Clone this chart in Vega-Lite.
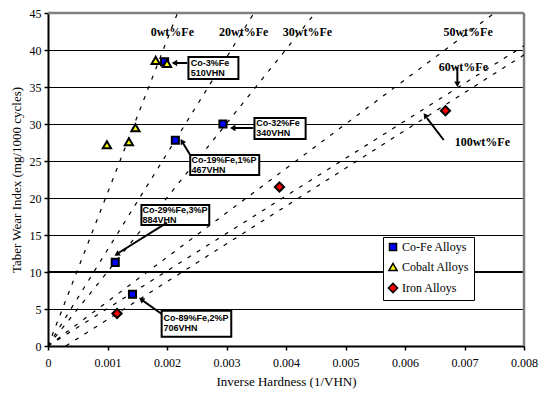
{
  "$schema": "https://vega.github.io/schema/vega-lite/v6.json",
  "width": 476,
  "height": 333,
  "autosize": "none",
  "padding": {"left": 48, "top": 13, "right": 16, "bottom": 51},
  "background": "white",
  "config": {
    "view": {"stroke": null},
    "font": "Liberation Serif",
    "axis": {
      "domainColor": "black", "domainWidth": 2, "tickColor": "black", "tickWidth": 1.5, "tickSize": 4,
      "labelFont": "Liberation Serif", "labelFontSize": 12, "labelColor": "black",
      "titleFont": "Liberation Serif", "titleFontSize": 13, "titleFontWeight": "normal", "titleColor": "black"
    },
    "legend": {"labelFont": "Liberation Serif", "labelFontSize": 12, "labelColor": "black"}
  },
  "datasets": {
    "points": [
      {"series": "Co-Fe Alloys", "x": 0.00196, "y": 38.4},
      {"series": "Co-Fe Alloys", "x": 0.00294, "y": 30.0},
      {"series": "Co-Fe Alloys", "x": 0.00214, "y": 27.8},
      {"series": "Co-Fe Alloys", "x": 0.00113, "y": 11.3},
      {"series": "Co-Fe Alloys", "x": 0.00142, "y": 7.0},
      {"series": "Cobalt Alloys", "x": 0.00181, "y": 38.6},
      {"series": "Cobalt Alloys", "x": 0.00200, "y": 38.2},
      {"series": "Cobalt Alloys", "x": 0.00147, "y": 29.5},
      {"series": "Cobalt Alloys", "x": 0.00136, "y": 27.6},
      {"series": "Cobalt Alloys", "x": 0.00099, "y": 27.2},
      {"series": "Iron Alloys", "x": 0.00668, "y": 31.8},
      {"series": "Iron Alloys", "x": 0.00389, "y": 21.5},
      {"series": "Iron Alloys", "x": 0.00116, "y": 4.4}
    ],
    "curves": [
      {"curve": "0wt%Fe", "x": 0.0, "y": 0.0},
      {"curve": "0wt%Fe", "x": 0.00237, "y": 49},
      {"curve": "20wt%Fe", "x": 0.0, "y": 0.0},
      {"curve": "20wt%Fe", "x": 0.00377, "y": 49},
      {"curve": "30wt%Fe", "x": 0.0, "y": 0.0},
      {"curve": "30wt%Fe", "x": 0.00489, "y": 49},
      {"curve": "50wt%Fe", "x": 0.0, "y": 0.0},
      {"curve": "50wt%Fe", "x": 0.00817, "y": 49},
      {"curve": "60wt%Fe", "x": 0.0, "y": 0.0},
      {"curve": "60wt%Fe", "x": 0.0085, "y": 43.1},
      {"curve": "100wt%Fe", "x": 0.0003, "y": 0.0},
      {"curve": "100wt%Fe", "x": 0.0085, "y": 41.9}
    ],
    "boxes": [
      {"bx": 0.00236, "bx2": 0.00320, "by": 39.05, "by2": 36.08, "text": "Co-3%Fe|510VHN", "tx": 0.00240, "ty": 38.85},
      {"bx": 0.00347, "bx2": 0.00433, "by": 30.81, "by2": 27.97, "text": "Co-32%Fe|340VHN", "tx": 0.00350, "ty": 30.65},
      {"bx": 0.00239, "bx2": 0.00355, "by": 25.81, "by2": 23.11, "text": "Co-19%Fe,1%P|467VHN", "tx": 0.00241, "ty": 25.65},
      {"bx": 0.00157, "bx2": 0.00271, "by": 19.05, "by2": 16.35, "text": "Co-29%Fe,3%P|884VHN", "tx": 0.00159, "ty": 18.9},
      {"bx": 0.00191, "bx2": 0.00308, "by": 4.77, "by2": 1.26, "text": "Co-89%Fe,2%P|706VHN", "tx": 0.00194, "ty": 4.3}
    ],
    "arrows": [
      {"ax": 0.00234, "ay": 38.24, "hx": 0.00216, "hy": 38.24},
      {"ax": 0.00345, "ay": 29.46, "hx": 0.00314, "hy": 29.46},
      {"ax": 0.00239, "ay": 25.81, "hx": 0.00227, "hy": 27.4},
      {"ax": 0.00200, "ay": 16.66, "hx": 0.00119, "hy": 12.6},
      {"ax": 0.00191, "ay": 4.32, "hx": 0.00160, "hy": 6.1},
      {"ax": 0.00688, "ay": 37.74, "hx": 0.00688, "hy": 35.7},
      {"ax": 0.00665, "ay": 27.84, "hx": 0.00637, "hy": 30.8}
    ],
    "labels": [
      {"x": 0.00209, "y": 42.5, "text": "0wt%Fe"},
      {"x": 0.00329, "y": 42.5, "text": "20wt%Fe"},
      {"x": 0.00436, "y": 42.5, "text": "30wt%Fe"},
      {"x": 0.00706, "y": 42.5, "text": "50wt%Fe"},
      {"x": 0.00698, "y": 37.7, "text": "60wt%Fe"},
      {"x": 0.00730, "y": 27.6, "text": "100wt%Fe"}
    ]
  },
  "layer": [
    {
      "data": {"name": "points"},
      "mark": {"type": "point", "opacity": 0},
      "encoding": {
        "x": {"field": "x", "type": "quantitative", "title": "Inverse Hardness (1/VHN)",
          "scale": {"domain": [0, 0.008], "nice": false},
          "axis": {"values": [0, 0.001, 0.002, 0.003, 0.004, 0.005, 0.006, 0.007, 0.008], "grid": false,
            "labelExpr": "datum.value == 0 ? '0' : format(datum.value, '.3f')", "labelPadding": 7, "titlePadding": 7, "labelFlush": false, "labelOverlap": false}},
        "y": {"field": "y", "type": "quantitative", "title": "Taber Wear Index (mg/1000 cycles)",
          "scale": {"domain": [0, 45], "nice": false, "zero": true},
          "axis": {"tickCount": 9, "grid": true, "gridColor": "black", "gridWidth": 1,
            "gridOpacity": 1, "labelPadding": 3, "titlePadding": 6, "labelFlush": false, "labelOverlap": false}}
      }
    },
    {
      "data": {"values": [{"y": 10}]},
      "mark": {"type": "rule", "color": "black", "strokeWidth": 2.2},
      "encoding": {"y": {"field": "y", "type": "quantitative"}}
    },
    {
      "data": {"values": [{"y": 45}]},
      "mark": {"type": "rule", "color": "#808080", "strokeWidth": 2.5},
      "encoding": {"y": {"field": "y", "type": "quantitative"}}
    },
    {
      "data": {"values": [{"x": 0.008}]},
      "mark": {"type": "rule", "color": "#808080", "strokeWidth": 2.5},
      "encoding": {"x": {"field": "x", "type": "quantitative"}}
    },
    {
      "data": {"name": "curves"},
      "mark": {"type": "line", "color": "black", "strokeWidth": 1.2, "strokeDash": [4, 7], "clip": true},
      "encoding": {
        "x": {"field": "x", "type": "quantitative"},
        "y": {"field": "y", "type": "quantitative"},
        "detail": {"field": "curve"}
      }
    },
    {
      "data": {"name": "labels"},
      "mark": {"type": "text", "font": "Liberation Serif", "fontWeight": "bold", "fontSize": 12, "color": "black"},
      "encoding": {
        "x": {"field": "x", "type": "quantitative"},
        "y": {"field": "y", "type": "quantitative"},
        "text": {"field": "text"}
      }
    },
    {
      "data": {"name": "boxes"},
      "mark": {"type": "rect", "fill": "white", "stroke": "black", "strokeWidth": 2},
      "encoding": {
        "x": {"field": "bx", "type": "quantitative"},
        "x2": {"field": "bx2"},
        "y": {"field": "by", "type": "quantitative"},
        "y2": {"field": "by2"}
      }
    },
    {
      "data": {"name": "boxes"},
      "mark": {"type": "text", "font": "Liberation Sans", "fontSize": 9, "fontWeight": "bold", "color": "black", "align": "left", "baseline": "top", "lineBreak": "|", "lineHeight": 10},
      "encoding": {
        "x": {"field": "tx", "type": "quantitative"},
        "y": {"field": "ty", "type": "quantitative"},
        "text": {"field": "text"}
      }
    },
    {
      "data": {"name": "arrows"},
      "mark": {"type": "rule", "color": "black", "strokeWidth": 2},
      "encoding": {
        "x": {"field": "ax", "type": "quantitative"},
        "y": {"field": "ay", "type": "quantitative"},
        "x2": {"field": "hx"},
        "y2": {"field": "hy"}
      }
    },
    {
      "data": {"values": [{"x": 0.00214, "y": 38.24}, {"x": 0.00312, "y": 29.46}]},
      "mark": {"type": "point", "shape": "triangle", "angle": 270, "filled": true, "color": "black", "size": 40, "opacity": 1},
      "encoding": {"x": {"field": "x", "type": "quantitative"}, "y": {"field": "y", "type": "quantitative"}}
    },
    {
      "data": {"values": [{"x": 0.00226, "y": 27.55}]},
      "mark": {"type": "point", "shape": "triangle", "angle": 328, "filled": true, "color": "black", "size": 40, "opacity": 1},
      "encoding": {"x": {"field": "x", "type": "quantitative"}, "y": {"field": "y", "type": "quantitative"}}
    },
    {
      "data": {"values": [{"x": 0.00117, "y": 12.45}]},
      "mark": {"type": "point", "shape": "triangle", "angle": 238, "filled": true, "color": "black", "size": 40, "opacity": 1},
      "encoding": {"x": {"field": "x", "type": "quantitative"}, "y": {"field": "y", "type": "quantitative"}}
    },
    {
      "data": {"values": [{"x": 0.00158, "y": 6.22}]},
      "mark": {"type": "point", "shape": "triangle", "angle": 306, "filled": true, "color": "black", "size": 40, "opacity": 1},
      "encoding": {"x": {"field": "x", "type": "quantitative"}, "y": {"field": "y", "type": "quantitative"}}
    },
    {
      "data": {"values": [{"x": 0.00688, "y": 35.5}]},
      "mark": {"type": "point", "shape": "triangle", "angle": 180, "filled": true, "color": "black", "size": 40, "opacity": 1},
      "encoding": {"x": {"field": "x", "type": "quantitative"}, "y": {"field": "y", "type": "quantitative"}}
    },
    {
      "data": {"values": [{"x": 0.00635, "y": 31.05}]},
      "mark": {"type": "point", "shape": "triangle", "angle": 323, "filled": true, "color": "black", "size": 40, "opacity": 1},
      "encoding": {"x": {"field": "x", "type": "quantitative"}, "y": {"field": "y", "type": "quantitative"}}
    },
    {
      "data": {"name": "points"},
      "mark": {"type": "point", "filled": true, "stroke": "black", "strokeWidth": 2, "opacity": 1},
      "encoding": {
        "x": {"field": "x", "type": "quantitative"},
        "y": {"field": "y", "type": "quantitative"},
        "color": {"field": "series", "type": "nominal",
          "scale": {"domain": ["Co-Fe Alloys", "Cobalt Alloys", "Iron Alloys"], "range": ["#0000ff", "#ffff00", "#ff0000"]},
          "legend": {"title": null, "orient": "none", "legendX": 335, "legendY": 224, "strokeColor": "black", "fillColor": "white", "padding": 4, "rowPadding": 6, "symbolSize": 30, "symbolStrokeWidth": 1.5, "symbolStrokeColor": "black", "labelOffset": 3}},
        "shape": {"field": "series", "type": "nominal",
          "scale": {"domain": ["Co-Fe Alloys", "Cobalt Alloys", "Iron Alloys"], "range": ["square", "triangle-up", "diamond"]}},
        "size": {"field": "series", "type": "nominal", "legend": null,
          "scale": {"domain": ["Co-Fe Alloys", "Cobalt Alloys", "Iron Alloys"], "range": [50, 85, 55]}}
      }
    }
  ]
}
